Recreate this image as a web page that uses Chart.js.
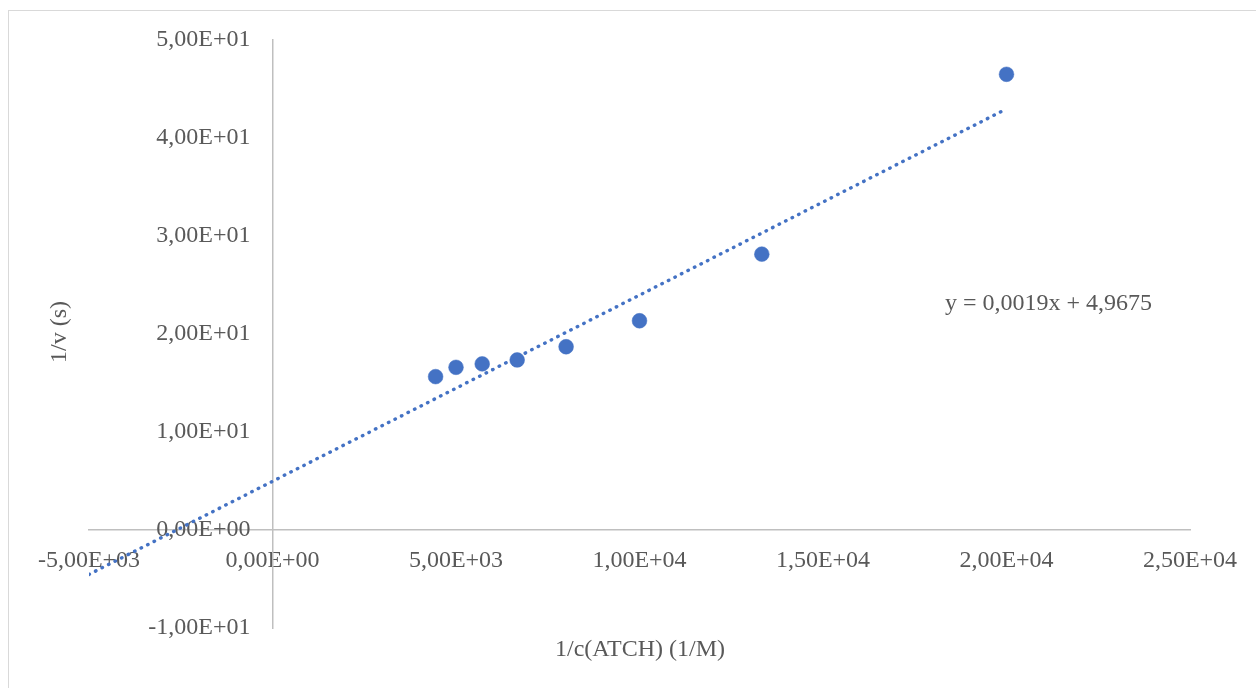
<!DOCTYPE html>
<html>
<head>
<meta charset="utf-8">
<script src="https://cdn.jsdelivr.net/npm/chart.js@4/dist/chart.umd.min.js"></script>
<style>
  html, body { margin: 0; padding: 0; background: #ffffff; overflow: hidden; }
  #frame { position: absolute; left: 8px; top: 10px; width: 1400px; height: 800px;
           border-left: 1px solid #d9d9d9; border-top: 1px solid #d9d9d9; }
  #c { position: absolute; left: 0; top: 0; }
</style>
</head>
<body>
<div id="frame"></div>
<canvas id="c" width="1256" height="688"></canvas>
<script>
// Lineweaver-Burk data: 1/c(ATCH) in 1/M against 1/v in s
const invConc = [4444, 5000, 5714, 6667, 8000, 10000, 13333, 20000];
const invRate = [15.65, 16.6, 16.95, 17.35, 18.7, 21.35, 28.15, 46.5];

// Linear trendline as given by its equation
const slope = 0.0019;
const intercept = 4.9675;
const trendX = [-5000, 20000];
const equationText = 'y = 0,0019x + 4,9675';

// Axis ranges
const xRange = [-5000, 25000];
const xStep = 5000;
const yRange = [-10, 50];
const yStep = 10;

const xTitle = '1/c(ATCH) (1/M)';
const yTitle = '1/v (s)';

const FONT = '"Liberation Serif", "Times New Roman", serif';
const TEXT = '#595959';
const BLUE = '#4472C4';
const AXIS = '#bfbfbf';
const Y_LABEL_GAP = 22;

// 5,00E+01 style labels
function sci(v) {
  if (v === 0) return '0,00E+00';
  const [m, e] = v.toExponential(2).split('e');
  const en = parseInt(e, 10);
  const es = (en < 0 ? '-' : '+') + String(Math.abs(en)).padStart(2, '0');
  return m.replace('.', ',') + 'E' + es;
}

const points = invConc.map((x, i) => ({ x: x, y: invRate[i] }));
const trend = trendX.map(x => ({ x: x, y: slope * x + intercept }));

// The value-positioned y axis draws its labels flush against the axis line;
// move them left to leave a gap.
const yLabelGap = {
  id: 'yLabelGap',
  beforeDraw(chart) {
    const items = chart.scales.y.getLabelItems(chart.chartArea);
    if (items._gapApplied) return;
    items.forEach(it => { it.options.translation[0] -= Y_LABEL_GAP; });
    items._gapApplied = true;
  }
};

const textPlugin = {
  id: 'textLabels',
  afterDraw(chart) {
    const ctx = chart.ctx;
    ctx.save();
    ctx.fillStyle = TEXT;
    ctx.font = '24px ' + FONT;
    ctx.textBaseline = 'middle';
    // x axis title
    ctx.textAlign = 'center';
    ctx.fillText(xTitle, 640, 650);
    // trendline equation
    ctx.textAlign = 'left';
    ctx.fillText(equationText, 945, 304);
    // y axis title, rotated
    ctx.translate(60, 332);
    ctx.rotate(-Math.PI / 2);
    ctx.textAlign = 'center';
    ctx.fillText(yTitle, 0, 0);
    ctx.restore();
  }
};

new Chart(document.getElementById('c'), {
  type: 'scatter',
  data: {
    datasets: [
      {
        label: 'Linear trend',
        data: trend,
        showLine: true,
        borderColor: BLUE,
        borderWidth: 3.4,
        borderDash: [0.5, 6.8],
        borderCapStyle: 'round',
        pointRadius: 0,
        pointHoverRadius: 0,
        fill: false,
        order: 0
      },
      {
        label: '1/v',
        data: points,
        backgroundColor: BLUE,
        borderColor: BLUE,
        borderWidth: 0.5,
        pointRadius: 7.4,
        pointHoverRadius: 7.4,
        order: 1
      }
    ]
  },
  options: {
    responsive: false,
    animation: false,
    devicePixelRatio: 1,
    layout: { padding: { left: 89, top: 40, right: 66, bottom: 60 } },
    plugins: { legend: { display: false }, tooltip: { enabled: false } },
    scales: {
      x: {
        type: 'linear',
        position: { y: 0 },
        min: xRange[0], max: xRange[1],
        grid: { display: false, drawTicks: false },
        border: { display: true, color: AXIS, width: 1.5 },
        ticks: {
          stepSize: xStep,
          padding: 16,
          color: TEXT,
          font: { family: FONT, size: 24 },
          maxRotation: 0,
          autoSkip: false,
          callback: v => sci(v)
        },
        afterFit: s => { s.height = 0; }
      },
      y: {
        type: 'linear',
        position: { x: 0 },
        min: yRange[0], max: yRange[1],
        grid: { display: false, drawTicks: false },
        border: { display: true, color: AXIS, width: 1.5 },
        ticks: {
          stepSize: yStep,
          padding: 0,
          color: TEXT,
          font: { family: FONT, size: 24 },
          autoSkip: false,
          callback: v => sci(v)
        },
        afterFit: s => { s.width = 0; }
      }
    }
  },
  plugins: [yLabelGap, textPlugin]
});
</script>
</body>
</html>
